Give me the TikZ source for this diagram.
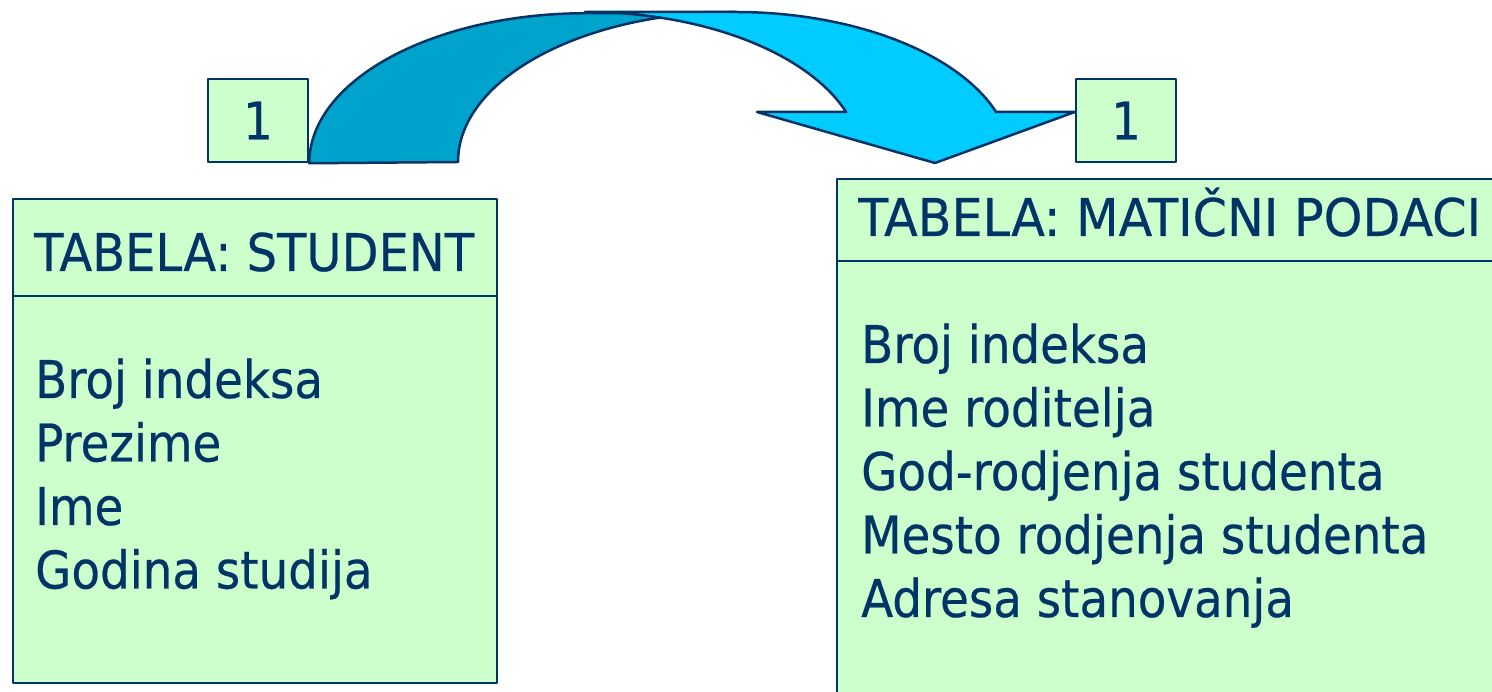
\documentclass[tikz,border=0pt]{standalone}
\usepackage{graphicx}
\usepackage{fontspec}
\setmainfont{DejaVu Sans Condensed}[FakeBold=0.4]
\definecolor{navy}{RGB}{0,51,102}
\definecolor{mint}{RGB}{204,255,204}
\definecolor{backblue}{RGB}{0,163,204}
\definecolor{frontblue}{RGB}{0,204,255}
% set a one-line heading to a given width, keeping its height
\newcommand{\headingto}[2]{\resizebox{#1}{\height}{#2}}
\begin{document}
\begin{tikzpicture}[x=1pt,y=1pt,
  outline/.style={draw=navy, line width=2.5pt, line join=round},
  tablebox/.style={outline, fill=mint},
  cardbox/.style={outline, fill=mint, minimum width=100pt, minimum height=83pt,
    inner sep=0pt, text=navy, font=\fontsize{52}{63.5}\selectfont},
  label/.style={inner sep=0pt, anchor=base west, text=navy, align=left,
    font=\fontsize{52}{63.5}\selectfont},
  backband/.style={outline, fill=backblue},
  frontband/.style={outline, fill=frontblue}]
\useasboundingbox (0,0) rectangle (1492,692);
\clip (0,0) rectangle (1492,692);

% table STUDENT (multi-line labels are anchored at their last baseline)
\draw[tablebox] (13,493) rectangle (497,9);
\draw[outline] (13,396) -- (497,396);
\node[label] (studentTitle) at (34,421) {\headingto{440pt}{TABELA: STUDENT}};
\node[label] (studentFields) at (35,103.5) {Broj indeksa\\Prezime\\Ime\\Godina studija};

% table MATIČNI PODACI (runs past the right and bottom edges)
\draw[tablebox] (837,513) rectangle (1520,-20);
\draw[outline] (837,431) -- (1520,431);
\node[label] (maticniTitle) at (858,456) {\headingto{623pt}{TABELA: MATIČNI PODACI}};
\node[label] (maticniFields) at (861,75)
  {Broj indeksa\\Ime roditelja\\God-rodjenja studenta\\Mesto rodjenja studenta\\Adresa stanovanja};

% cardinality cards
\node[cardbox] (cardL) at (258,571.5) {1};
\node[cardbox] (cardR) at (1126,571.5) {1};

% curved arrow: back band rising from the left card
\filldraw[backband] (cardL.south east)
  arc[start angle=180, end angle=90, x radius=277, y radius=150]
  -- (735,680)
  arc[start angle=90, end angle=180, x radius=277, y radius=150]
  -- cycle;
% front band coming down into the arrowhead at the right card
\filldraw[frontband] (585,680) -- (735,680)
  arc[start angle=90, end angle=19.47, x radius=277, y radius=150]
  -- (cardR.west |- 0,580) -- (935,529) -- (757,580) -- (846.16,580)
  arc[start angle=19.47, end angle=90, x radius=277, y radius=150]
  -- cycle;
\end{tikzpicture}
\end{document}
